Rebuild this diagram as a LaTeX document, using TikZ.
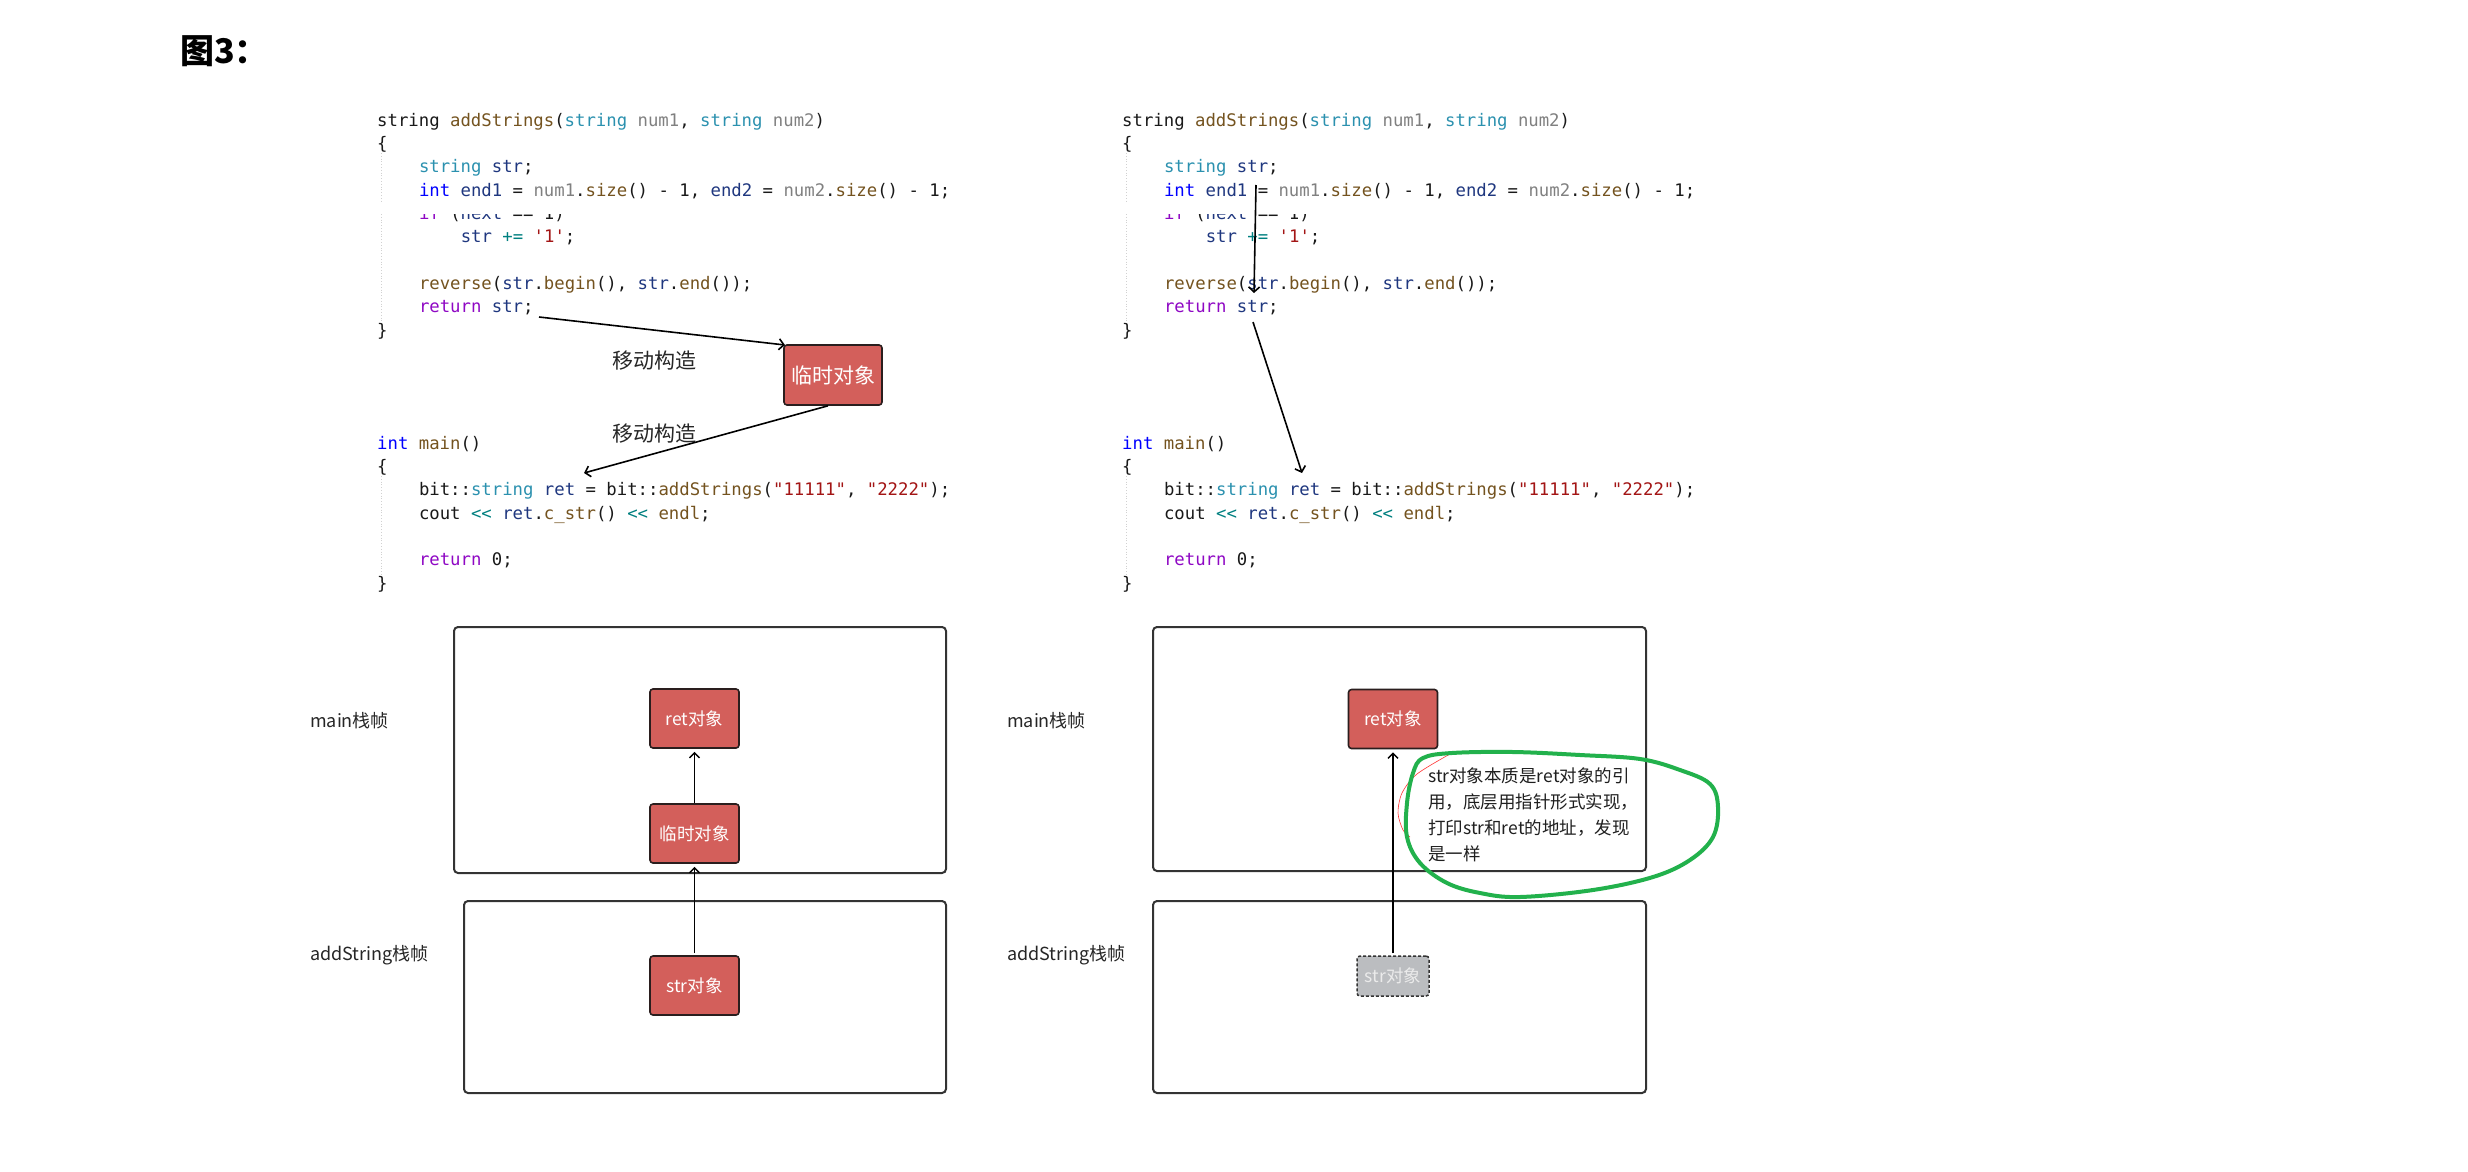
\documentclass[tikz,border=0pt]{standalone}
\usepackage{fontspec}
\setmonofont{DejaVu Sans Mono}
\newfontfamily\cjk{Noto Sans CJK SC}
\usetikzlibrary{arrows.meta}
\definecolor{ccTy}{HTML}{2B91AF}
\definecolor{ccFn}{HTML}{74531F}
\definecolor{ccVa}{HTML}{1F377F}
\definecolor{ccPa}{HTML}{808080}
\definecolor{ccKw}{HTML}{0000FF}
\definecolor{ccRt}{HTML}{8F08C4}
\definecolor{ccSt}{HTML}{A31515}
\definecolor{ccOp}{HTML}{008080}
\definecolor{objred}{HTML}{D35F5B}
\definecolor{objedge}{HTML}{2A1E1E}
\definecolor{framecol}{HTML}{333333}
\definecolor{gobj}{HTML}{BBBDC0}
\definecolor{loopgreen}{HTML}{22B14C}
\newcommand\ccTy[1]{\textcolor{ccTy}{#1}}
\newcommand\ccFn[1]{\textcolor{ccFn}{#1}}
\newcommand\ccVa[1]{\textcolor{ccVa}{#1}}
\newcommand\ccPa[1]{\textcolor{ccPa}{#1}}
\newcommand\ccKw[1]{\textcolor{ccKw}{#1}}
\newcommand\ccRt[1]{\textcolor{ccRt}{#1}}
\newcommand\ccSt[1]{\textcolor{ccSt}{#1}}
\newcommand\ccOp[1]{\textcolor{ccOp}{#1}}
\begin{document}
\begin{tikzpicture}[x=1pt,y=-1pt,
  codeline/.style={anchor=base west, inner sep=0pt, text=black!90,
    font=\ttfamily\fontsize{17.3}{20}\selectfont\frenchspacing},
  guide/.style={draw=black!18, line width=0.8pt, dotted},
  frame/.style={draw=framecol, line width=2pt, rounded corners=4pt, inner sep=0pt, anchor=north west},
  obj/.style={draw=objedge, line width=1.6pt, rounded corners=3pt, fill=objred, text=white,
    minimum width=89pt, minimum height=59pt, inner sep=0pt, font=\cjk\fontsize{17.5}{20}\selectfont},
  ghost/.style={draw=framecol, line width=1.5pt, dash pattern=on 3pt off 2pt, rounded corners=3pt, fill=gobj,
    text=white!92!black, minimum width=72pt, minimum height=40pt, inner sep=0pt, font=\cjk\fontsize{17.5}{20}\selectfont},
  lbl/.style={anchor=west, inner sep=0pt, text=black!85, font=\cjk\fontsize{18}{22}\selectfont},
  note/.style={anchor=base west, inner sep=0pt, text=black!88, font=\cjk\fontsize{17.5}{22}\selectfont},
  arr/.style={draw=black, line width=1.6pt, -{Straight Barb[length=5pt,width=11pt]}},
  conn/.style={draw=black, line width=1.4pt, -{Straight Barb[length=5pt,width=10pt]}}]
\useasboundingbox[fill=white] (0,0) rectangle (2468,1172);

% title
\node[anchor=west, inner sep=0pt, font=\cjk\bfseries\fontsize{34}{40}\selectfont] (title) at (180,51) {图3：};

% code blocks (left and right)
\foreach \ox/\p in {0/L,745/R}{
\begin{scope}[xshift=\ox pt]
  \draw[guide] (381,153) -- (381,201);
  \draw[guide] (381,214) -- (381,326);
  \draw[guide] (381,476) -- (381,580);
  \node[codeline] (\p c0) at (377,126) {string \ccFn{addStrings}(\ccTy{string} \ccPa{num1}, \ccTy{string} \ccPa{num2})};
  \node[codeline] (\p c1) at (377,149.4) {\{};
  \node[codeline] (\p c2) at (418.8,172.7) {\ccTy{string} \ccVa{str};};
  \node[codeline] (\p c3) at (418.8,196) {\ccKw{int} \ccVa{end1} = \ccPa{num1}.\ccFn{size}() - 1, \ccVa{end2} = \ccPa{num2}.\ccFn{size}() - 1;};
  \begin{scope}
    \clip (370,214) rectangle (800,232);
    \node[codeline] (\p c4) at (418.8,219.6) {\ccRt{if} (\ccVa{next} == 1)};
  \end{scope}
  \node[codeline] (\p c5) at (460.6,242.7) {\ccVa{str} \ccOp{+=} \ccSt{'1'};};
  \node[codeline] (\p c7) at (418.8,289.4) {\ccFn{reverse}(\ccVa{str}.\ccFn{begin}(), \ccVa{str}.\ccFn{end}());};
  \node[codeline] (\p c8) at (418.8,312.8) {\ccRt{return} \ccVa{str};};
  \node[codeline] (\p c9) at (377,336) {\}};
  \node[codeline] (\p m0) at (377,449) {\ccKw{int} \ccFn{main}()};
  \node[codeline] (\p m1) at (377,472.4) {\{};
  \node[codeline] (\p m2) at (418.8,495.7) {bit::\ccTy{string} \ccVa{ret} = bit::\ccFn{addStrings}(\ccSt{"11111"}, \ccSt{"2222"});};
  \node[codeline] (\p m3) at (418.8,519) {cout \ccOp{<<} \ccVa{ret}.\ccFn{c\_str}() \ccOp{<<} \ccFn{endl};};
  \node[codeline] (\p m5) at (418.8,565.8) {\ccRt{return} 0;};
  \node[codeline] (\p m6) at (377,589) {\}};
\end{scope}
}

% left: move construction
\node[obj, minimum width=98pt, minimum height=60pt, font=\cjk\fontsize{21}{24}\selectfont] (tmpbig) at (833,375) {临时对象};
\node[inner sep=0pt, text=black!85, font=\cjk\fontsize{21}{24}\selectfont] (mv1) at (654,361) {移动构造};
\node[inner sep=0pt, text=black!85, font=\cjk\fontsize{21}{24}\selectfont] (mv2) at (654,434) {移动构造};
\coordinate (Lret) at (539,317);
\coordinate (Ltip1) at (785,345);
\coordinate (Ltip2) at (584,473);
\draw[arr] (Lret) -- (Ltip1);
\draw[arr] (tmpbig.south) ++(-5,0) -- (Ltip2);

% right: code arrows
\coordinate (Rs1) at (1256,185);
\coordinate (Re1) at (1254,293);
\coordinate (Rs2) at (1253,322);
\coordinate (Re2) at (1302,473);
\draw[arr] (Rs1) -- (Re1);
\draw[arr] (Rs2) -- (Re2);

% left stack frames
\node[frame, minimum width=492pt, minimum height=246pt] (Lmain) at (453,626) {};
\node[frame, minimum width=482pt, minimum height=192pt] (Ladd) at (463,900) {};
\node[lbl] (Lmainlbl) at (310,721) {main栈帧};
\node[lbl] (Laddlbl) at (310,955) {addString栈帧};
\node[obj] (Lretobj) at (694.5,718.5) {ret对象};
\node[obj] (Ltmpobj) at (694.5,833.5) {临时对象};
\node[obj] (Lstrobj) at (694.5,985.5) {str对象};
\draw[conn, shorten >=3pt] (Ltmpobj.north) -- (Lretobj.south);
\draw[conn, shorten >=3pt, shorten <=2pt] (Lstrobj.north) -- (Ltmpobj.south);

% right stack frames
\node[frame, minimum width=493pt, minimum height=244pt] (Rmain) at (1152,626) {};
\node[frame, minimum width=493pt, minimum height=192pt] (Radd) at (1152,900) {};
\node[lbl] (Rmainlbl) at (1007,721) {main栈帧};
\node[lbl] (Raddlbl) at (1007,955) {addString栈帧};
\node[obj] (Rretobj) at (1393,719) {ret对象};
\node[ghost] (Rstrobj) at (1393,976) {str对象};
\draw[conn, shorten >=3pt, shorten <=2pt] (Rstrobj.north) -- (Rretobj.south);

% note with hand-drawn loop
\draw[red!80, line width=0.6pt] plot[smooth] coordinates {(1450,754) (1417,774) (1402,793) (1398,813) (1403,830) (1410,837)};
\node[note] (n1) at (1428,782) {str对象本质是ret对象的引};
\node[note] (n2) at (1428,808) {用，底层用指针形式实现，};
\node[note] (n3) at (1428,834) {打印str和ret的地址，发现};
\node[note] (n4) at (1428,860) {是一样};
\draw[loopgreen, line width=4pt] plot[smooth cycle, tension=0.6] coordinates {
  (1423,758) (1452,753) (1513,752) (1580,755) (1640,759) (1680,770) (1710,784)
  (1718,807) (1713,837) (1690,860) (1653,877) (1593,890) (1520,897) (1480,893)
  (1447,883) (1420,863) (1407,837) (1407,803) (1413,773)};
\end{tikzpicture}
\end{document}
